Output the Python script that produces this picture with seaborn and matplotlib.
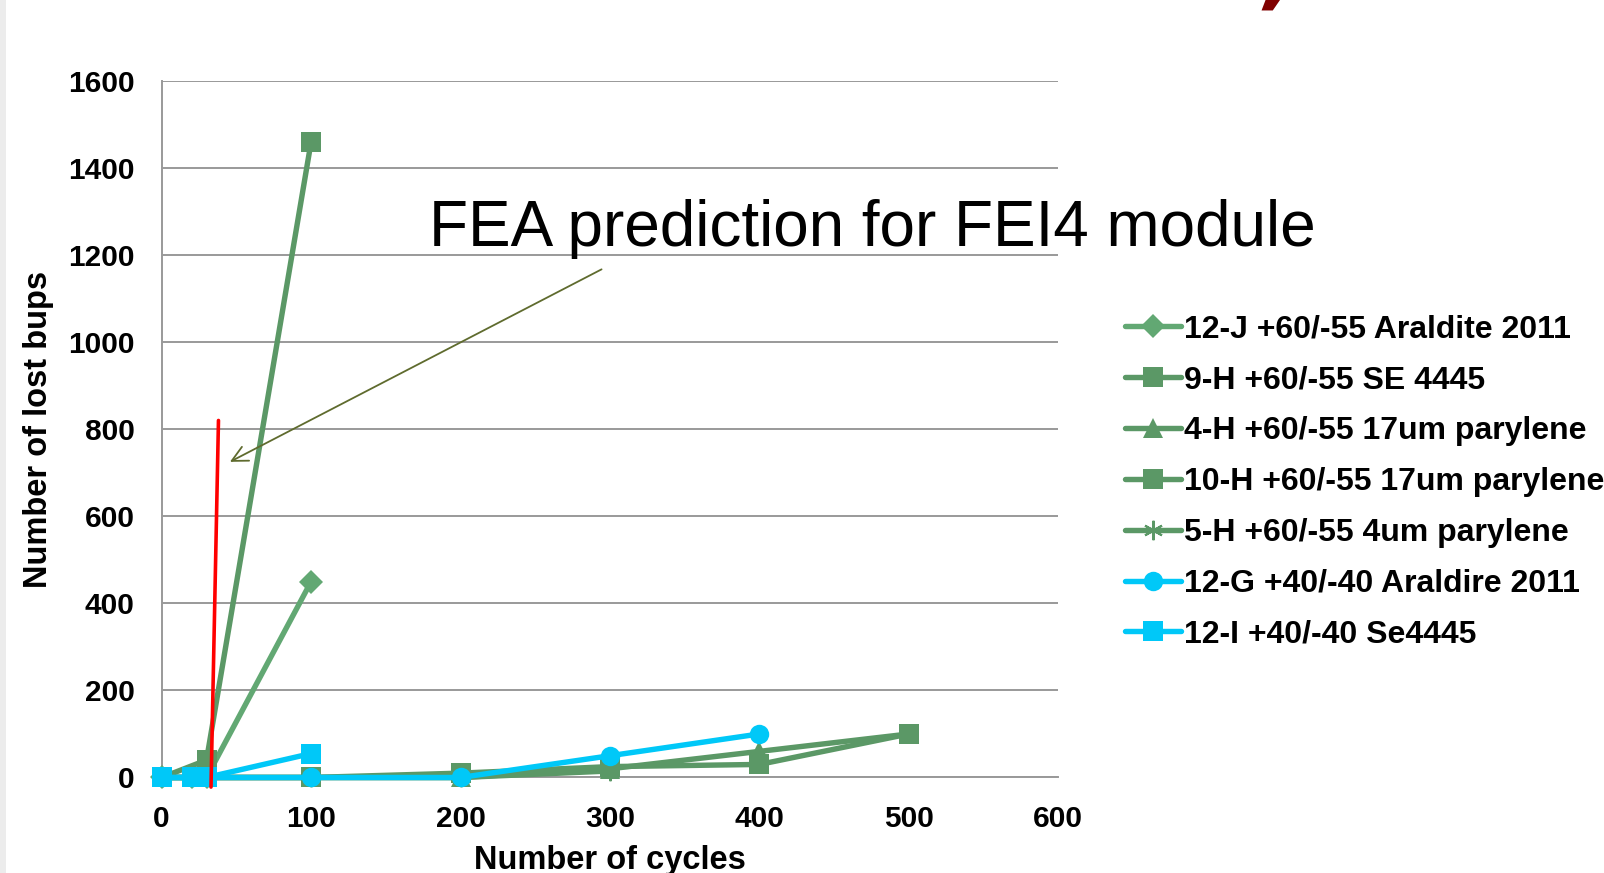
import matplotlib
matplotlib.use("Agg")
import matplotlib.pyplot as plt
from matplotlib.patches import Polygon, Rectangle
import seaborn as sns
import pandas as pd

# Thermal-cycling results: lost bump bonds vs. number of cycles
labels = [
    "12-J +60/-55 Araldite 2011",
    "9-H +60/-55 SE 4445",
    "4-H +60/-55 17um parylene",
    "10-H +60/-55 17um parylene",
    "5-H +60/-55 4um parylene",
    "12-G +40/-40 Araldire 2011",
    "12-I +40/-40 Se4445",
]
cycles_12J = [0, 20, 30, 100]
lost_12J = [0, 0, 0, 450]
cycles_9H = [0, 30, 100]
lost_9H = [0, 40, 1460]
cycles_4H = [0, 100, 200, 300, 400, 500]
lost_4H = [0, 0, 0, 20, 60, 100]
cycles_10H = [0, 100, 200, 300, 400, 500]
lost_10H = [0, 0, 10, 25, 30, 100]
cycles_5H = [0, 100, 200, 300]
lost_5H = [0, 0, 0, 15]
cycles_12G = [0, 20, 30, 100, 200, 300, 400]
lost_12G = [0, 0, 0, 0, 0, 50, 100]
cycles_12I = [0, 20, 30, 100]
lost_12I = [0, 0, 0, 55]

# FEA prediction line and annotation arrow (data coordinates)
fea_x = [38, 33]
fea_y = [820, -22]
arrow_tail = (296, 1170)
arrow_head = (44, 722)
fea_text = "FEA prediction for FEI4 module"

x_ticks = [0, 100, 200, 300, 400, 500, 600]
y_ticks = [0, 200, 400, 600, 800, 1000, 1200, 1400, 1600]

green = "#5b9866"
green_light = "#62a873"
cyan = "#00c8f8"

sns.set_theme(style="white")
plt.rcParams["font.family"] = ["Liberation Sans", "DejaVu Sans"]
plt.rcParams.update({"text.color": "black", "axes.labelcolor": "black",
                     "xtick.labelcolor": "black", "ytick.labelcolor": "black"})

fig = plt.figure(figsize=(16.04, 8.73), dpi=100)
ax = fig.add_axes([0.1008, 0.1094, 0.559, 0.798])

series = [
    (cycles_12J, lost_12J, green_light, "D", 12),
    (cycles_9H, lost_9H, green, "s", 14),
    (cycles_4H, lost_4H, green, "^", 14),
    (cycles_10H, lost_10H, green, "s", 14),
    (cycles_5H, lost_5H, green, (6, 2, 0), 14),
    (cycles_12G, lost_12G, cyan, "o", 14),
    (cycles_12I, lost_12I, cyan, "s", 14),
]

for (xs, ys, col, mk, ms), lab in zip(series, labels):
    df = pd.DataFrame({"cycles": xs, "lost": ys})
    sns.lineplot(data=df, x="cycles", y="lost", ax=ax, color=col, lw=3.9,
                 marker=mk, markersize=ms, markeredgewidth=1.5 if mk == (6, 2, 0) else 0,
                 markeredgecolor=col, estimator=None, sort=False, label=lab,
                 clip_on=False, zorder=3)

# red FEA prediction marker
ax.plot(fea_x, fea_y, color="#ff0000", lw=2.6, clip_on=False, zorder=4)
ax.annotate("", xy=arrow_head, xytext=arrow_tail,
            arrowprops=dict(arrowstyle="->", color="#5f6b2e", lw=1.3,
                            mutation_scale=28), zorder=5)
ax.text(179, 1220, fea_text, fontsize=46, color="black", ha="left",
        va="baseline", zorder=6)

ax.set_xlim(0, 600)
ax.set_ylim(0, 1600)
ax.set_xticks(x_ticks)
ax.set_yticks(y_ticks)
ax.yaxis.grid(True, color="#999999", lw=1.4)
ax.xaxis.grid(False)
ax.set_axisbelow(True)
for s in ["top", "right"]:
    ax.spines[s].set_visible(False)
for s in ["left", "bottom"]:
    ax.spines[s].set_color("#999999")
    ax.spines[s].set_linewidth(1.4)
ax.tick_params(axis="both", which="major", direction="out", length=7.5,
               width=1.4, color="#999999", labelcolor="black", labelsize=21.5, pad=12)
for t in ax.get_xticklabels() + ax.get_yticklabels():
    t.set_fontweight("bold")
ax.set_xlabel("Number of cycles", fontsize=23.5, fontweight="bold", labelpad=9)
ax.set_ylabel("Number of lost bups", fontsize=23.5, fontweight="bold", labelpad=10)

handles, labs = ax.get_legend_handles_labels()
ax.get_legend().remove()
leg = fig.legend(handles, labs, loc="center left", bbox_to_anchor=(0.6935, 0.448),
                 frameon=False, prop={"weight": "bold", "size": 23},
                 handlelength=1.75, handletextpad=0.1, labelspacing=0.655,
                 borderaxespad=0, labelcolor="black")

# slide edge shading and logo fragment
fig.add_artist(Rectangle((0, 0), 0.004, 1, transform=fig.transFigure,
                         facecolor="#ececec", edgecolor="none"))
fig.add_artist(Polygon([(0.7865, 0.988), (0.7935, 0.988), (0.7980, 1.0),
                        (0.7890, 1.0)], closed=True, transform=fig.transFigure,
                       facecolor="#800000", edgecolor="none"))

fig.savefig("out.png", dpi=100)
